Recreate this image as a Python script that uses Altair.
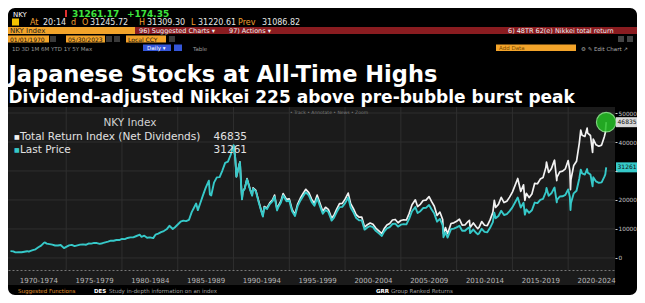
import altair as alt
import pandas as pd

# ---------------- data ----------------
price_dates = [
    1970.00, 1970.25, 1970.45, 1970.75, 1971.00, 1971.25, 1971.50, 1971.65, 1971.75,
    1972.00, 1972.25, 1972.50, 1972.75, 1973.00, 1973.10, 1973.25, 1973.50, 1973.75,
    1974.00, 1974.25, 1974.50, 1974.80, 1975.00, 1975.25, 1975.50, 1975.75,
    1976.00, 1976.25, 1976.50, 1976.75, 1977.00, 1977.25, 1977.50, 1977.75,
    1978.00, 1978.25, 1978.50, 1978.75, 1979.00, 1979.25, 1979.50, 1979.75,
    1980.00, 1980.25, 1980.50, 1980.75, 1981.00, 1981.25, 1981.60, 1981.75,
    1982.00, 1982.25, 1982.50, 1982.80, 1983.00, 1983.25, 1983.50, 1983.75,
    1984.00, 1984.25, 1984.55, 1984.75, 1985.00, 1985.25, 1985.50, 1985.75,
    1986.00, 1986.25, 1986.50, 1986.65, 1986.80, 1987.00, 1987.25, 1987.50, 1987.79, 1987.88,
    1988.00, 1988.25, 1988.50, 1988.75, 1989.00, 1989.25, 1989.50, 1989.75,
    1990.00, 1990.15, 1990.26, 1990.50, 1990.58, 1990.67, 1990.76, 1990.83,
    1991.00, 1991.21, 1991.50, 1991.67, 1991.75,
    1992.00, 1992.25, 1992.50, 1992.63, 1992.75,
    1993.00, 1993.25, 1993.50, 1993.68, 1993.90,
    1994.00, 1994.25, 1994.45, 1994.75,
    1995.00, 1995.25, 1995.51, 1995.75,
    1996.00, 1996.25, 1996.48, 1996.75,
    1997.00, 1997.25, 1997.50, 1997.75,
    1998.00, 1998.25, 1998.50, 1998.75, 1998.79,
    1999.00, 1999.25, 1999.50, 1999.75,
    2000.00, 2000.28, 2000.50, 2000.75,
    2001.00, 2001.25, 2001.50, 2001.75,
    2002.00, 2002.25, 2002.50, 2002.75,
    2003.00, 2003.30, 2003.50, 2003.75,
    2004.00, 2004.25, 2004.50, 2004.75,
    2005.00, 2005.25, 2005.50, 2005.75,
    2006.00, 2006.30, 2006.50, 2006.75,
    2007.00, 2007.25, 2007.53, 2007.75,
    2008.00, 2008.25, 2008.50, 2008.75, 2008.82,
    2009.00, 2009.19, 2009.50, 2009.75,
    2010.00, 2010.25, 2010.50, 2010.75,
    2011.00, 2011.15, 2011.21, 2011.50, 2011.75, 2011.90,
    2012.00, 2012.25, 2012.50, 2012.75,
    2013.00, 2013.25, 2013.38, 2013.50, 2013.75,
    2014.00, 2014.25, 2014.50, 2014.75,
    2015.00, 2015.25, 2015.48, 2015.75,
    2016.00, 2016.12, 2016.25, 2016.50, 2016.75,
    2017.00, 2017.25, 2017.50, 2017.75,
    2018.00, 2018.06, 2018.25, 2018.50, 2018.75, 2018.78, 2018.98,
    2019.00, 2019.25, 2019.50, 2019.75,
    2020.00, 2020.15, 2020.21, 2020.25, 2020.50, 2020.75,
    2021.00, 2021.13, 2021.25, 2021.50, 2021.70, 2021.75,
    2022.00, 2022.19, 2022.25, 2022.50, 2022.75,
    2023.00, 2023.25, 2023.33, 2023.41,
]
price_values = [
    2360, 2300, 1930, 2020, 1990, 2170, 2340, 2180, 2380,
    2710, 3000, 3700, 4250, 5210, 5360, 4950, 4800, 4600,
    4310, 4300, 4500, 3400, 3820, 4350, 4520, 4100,
    4360, 4600, 4700, 4550, 4990, 4950, 5200, 5150,
    4870, 5100, 5400, 5650, 6000, 5950, 6200, 6200,
    6570, 6500, 6900, 7100, 7120, 7500, 8020, 7300,
    7680, 7000, 7100, 6850, 8020, 8400, 8900, 9300,
    9890, 11100, 10000, 10600, 11540, 12500, 12900, 12700,
    13110, 15800, 17650, 18800, 16500, 18700, 21500, 24200, 26650, 21900,
    21560, 26000, 27800, 27900, 30160, 32800, 33200, 35600,
    38916, 34600, 28000, 31940, 33000, 25980, 20220, 22900,
    23850, 27150, 23290, 21500, 23900,
    22980, 19350, 15950, 14310, 17400,
    16920, 18590, 19590, 21150, 16400,
    17420, 19110, 21550, 19560,
    19720, 16140, 14490, 17910,
    19870, 21410, 22670, 21560,
    19360, 18000, 20600, 17890,
    15260, 16530, 15830, 13410, 12880,
    13840, 15840, 17530, 17610,
    18930, 20830, 17410, 15750,
    13790, 13000, 12970, 9780,
    10540, 11030, 10620, 9380,
    8580, 7610, 9080, 10220,
    10680, 11720, 11860, 10820,
    11490, 11670, 11580, 13570,
    16110, 17560, 15510, 16130,
    17230, 17290, 18260, 16790,
    15310, 12530, 13480, 11260, 7160,
    8860, 7050, 9960, 10130,
    10550, 11090, 9380, 9370,
    10230, 10620, 8610, 9820, 8700, 8160,
    8460, 10080, 9010, 8870,
    10400, 12400, 15630, 13680, 14460,
    16290, 14830, 15160, 16170,
    17450, 19210, 20870, 17390,
    19030, 14950, 16760, 15580, 16450,
    19110, 18910, 20030, 20360,
    22760, 24120, 21450, 22300, 24120, 24270, 19160,
    20010, 21210, 21280, 21760,
    23660, 21140, 16550, 18920, 22290, 23190,
    27440, 30470, 29180, 28790, 30670, 29450,
    28790, 24720, 27820, 26390, 25940,
    26090, 28040, 28860, 31261,
]
tr_dates = price_dates[price_dates.index(1990.00):]
tr_values = [
    38916, 34635, 28045, 32036, 33116, 26084, 20313, 23015,
    23993, 27354, 23511, 21730, 24170,
    23279, 19636, 16213, 14559, 17718,
    17258, 18995, 20050, 21675, 16831,
    17890, 19660, 22201, 20192,
    20390, 16718, 15035, 18614,
    20685, 22326, 23677, 22558,
    20289, 18900, 21671, 18856,
    16115, 17489, 16780, 14241, 13682,
    14726, 16885, 18722, 18843,
    20293, 22382, 18742, 16991,
    14907, 14086, 14085, 10646,
    11499, 12065, 11645, 10311,
    9455, 8414, 10061, 11354,
    11898, 13091, 13283, 12151,
    12938, 13175, 13109, 15402,
    18333, 20052, 17751, 18514,
    19832, 19966, 21163, 19515,
    17851, 14666, 15839, 13281, 8454,
    10490, 8371, 11882, 12131,
    12681, 13383, 11364, 11397,
    12491, 13001, 10551, 12093, 10760, 10118,
    10507, 12573, 11285, 11157,
    13135, 15723, 19860, 17415, 18480,
    20900, 19101, 19602, 20989,
    22737, 25136, 27415, 22946,
    25215, 19851, 22304, 20823, 22081,
    25760, 25595, 27221, 27781,
    31181, 33078, 29515, 30819, 33479, 33704, 26700,
    27894, 29705, 29941, 30758,
    33597, 30095, 23584, 26980, 31919, 33347,
    39623, 44090, 42305, 41904, 44781, 43035,
    42235, 36383, 40987, 39044, 38542,
    38926, 41934, 43192, 46835,
]

period_centers = [1972.5, 1977.5, 1982.5, 1987.5, 1992.5, 1997.5,
                  2002.5, 2007.5, 2012.5, 2017.5, 2022.5]
period_bounds = [1975, 1980, 1985, 1990, 1995, 2000, 2005, 2010, 2015, 2020]
value_ticks = [0, 10000, 20000, 30000, 40000, 50000]
series_names = ["Total Return Index (Net Dividends)", "Last Price"]
series_last = [46835, 31261]
series_colors = ["#f2f2f2", "#36c9c9"]
box_colors = ["#d8d8d8", "#36c9c9"]
last_date = 2023.41

title_text = "Japanese Stocks at All-Time Highs"
subtitle_text = "Dividend-adjusted Nikkei 225 above pre-bubble burst peak"

# ---------------- layout helpers ----------------
W, H = 607, 163
PAD = {"left": 0, "top": 99, "right": 22, "bottom": 25}
OX, OY = 8, 107  # page position of the plot origin


def px(x):
    return x - OX


def py(y):
    return y - OY


one = pd.DataFrame({"k": [0]})


def txt(x, y, s, size=9, color="#e6e6e6", weight="normal", align="left",
        font="DejaVu Sans"):
    return alt.Chart(one).mark_text(
        text=s, align=align, baseline="alphabetic", fontSize=size,
        color=color, fontWeight=weight, font=font
    ).encode(x=alt.value(px(x)), y=alt.value(py(y)))


def box(x1, y1, x2, y2, color, radius=0):
    return alt.Chart(one).mark_rect(color=color, cornerRadius=radius).encode(
        x=alt.value(px(x1)), x2=alt.value(px(x2)),
        y=alt.value(py(y1)), y2=alt.value(py(y2)))


# ---------------- scales / axes ----------------
xscale = alt.Scale(domain=[1969.78, 2024.2], nice=False, zero=False)
yscale = alt.Scale(domain=[-4140, 52070], nice=False, zero=False)

xaxis = alt.Axis(values=period_centers,
                 labelExpr="floor(datum.value) - 2 + '-' + (floor(datum.value) + 2)",
                 grid=False, ticks=False, domain=True, domainColor="#777777",
                 domainDash=[2, 2], domainWidth=1, labelColor="#b8b8b8",
                 labelFontSize=7, labelFont="DejaVu Sans", labelPadding=6,
                 title=None, labelFlush=False, labelOverlap=False, zindex=1)
yaxis = alt.Axis(orient="right", values=value_ticks, format="d",
                 labelExpr="datum.value == 30000 ? '' : datum.label",
                 grid=False, ticks=True, tickSize=2, tickColor="#d0d0d0",
                 domain=False, labelColor="#c8c8c8", labelFontSize=5.8,
                 labelFont="DejaVu Sans", labelPadding=1, title=None,
                 labelFlush=False, labelOverlap=False, zindex=1)

X = alt.X("date:Q", scale=xscale, axis=xaxis)
Y = alt.Y("value:Q", scale=yscale, axis=yaxis)

tr_df = pd.DataFrame({"date": tr_dates, "value": tr_values})
pr_df = pd.DataFrame({"date": price_dates, "value": price_values})
vgrid_df = pd.DataFrame({"date": period_bounds})
hgrid_df = pd.DataFrame({"value": value_ticks})
last_df = pd.DataFrame({"date": [last_date, last_date], "value": series_last,
                        "label": [str(v) for v in series_last],
                        "box": box_colors})

layers = []
# frame and panel
layers.append(box(8, 8, 637, 295, "#000000", 7))
layers.append(box(8, 107, 615, 285, "#1b1b1b"))

# grid
layers.append(alt.Chart(vgrid_df).mark_rule(color="#2f2f2f", strokeWidth=1).encode(
    x=X, y=alt.value(0), y2=alt.value(H)))
layers.append(alt.Chart(hgrid_df).mark_rule(color="#2f2f2f", strokeWidth=1).encode(
    y=Y, x=alt.value(0), x2=alt.value(W)))

# series
layers.append(alt.Chart(tr_df).mark_line(color=series_colors[0], strokeWidth=1.7,
                                         strokeJoin="round").encode(x=X, y=Y))
layers.append(alt.Chart(pr_df).mark_line(color=series_colors[1], strokeWidth=1.9,
                                         strokeJoin="round").encode(x=X, y=Y))

# highlight circle
layers.append(alt.Chart(last_df.iloc[[0]]).mark_circle(
    size=380, color="#24c024", opacity=0.85, stroke="#8ef08e", strokeWidth=1.2
).encode(x=X, y=Y))

# last-value boxes on the axis
layers.append(alt.Chart(last_df).mark_rect(yOffset=-5, y2Offset=5).encode(
    x=alt.value(W + 1), x2=alt.value(W + 30), y=Y, y2=alt.Y2("value:Q"),
    color=alt.Color("box:N", scale=None)))
layers.append(alt.Chart(last_df).mark_text(
    align="left", baseline="middle", fontSize=6, color="#101010",
    font="DejaVu Sans").encode(
    x=alt.value(W + 2.5), y=Y, text="label:N"))

# legend
layers.append(txt(130, 126, "NKY Index", 10.5, "#d2d2d2", align="center"))
for i, yy in enumerate([140, 153]):
    layers.append(txt(14, yy - 1, "■", 6, series_colors[i]))
    layers.append(txt(20, yy, series_names[i], 10.5, "#e2e2e2"))
    layers.append(txt(247, yy, str(series_last[i]), 10.5, "#e2e2e2", align="right"))

layers.append(txt(329, 114, "• Track   • Annotate   • News   • Zoom", 4.5,
                  "#7a7a7a", align="center"))

# header rows (Bloomberg terminal)
r1, r2 = 16.5, 25
layers.append(txt(13, r1, "NKY", 7, "#ffffff"))
layers.append(box(65, 10, 67, 17, "#e03030"))
layers.append(txt(72, r1, "31261.17", 9, "#3ee63e", "bold"))
layers.append(txt(127, r1, "+174.35", 9, "#3ee63e", "bold"))

layers.append(box(12, 18.5, 19, 25.5, "#f2c200"))
for x, s, c in [(30, "At", "#f0a030"), (43, "20:14", "#e6e6e6"), (71, "d", "#f0a030"),
                (82, "O", "#f0a030"), (90, "31245.72", "#e6e6e6"),
                (139, "H", "#f0a030"), (147, "31309.30", "#e6e6e6"),
                (191, "L", "#f0a030"), (198, "31220.61", "#e6e6e6"),
                (238, "Prev", "#f0a030"), (262, "31086.82", "#e6e6e6")]:
    layers.append(txt(x, r2, s, 8, c))

b3a, b3b = 27, 34
layers.append(box(8, b3a, 135, b3b, "#f3a42a"))
layers.append(box(135, b3a, 645, b3b, "#8a1c20"))
layers.append(txt(10, b3b - 1.5, "NKY Index", 7, "#1a1a1a"))
layers.append(txt(139, b3b - 1.5, "96) Suggested Charts ▾", 6.5, "#f0f0f0"))
layers.append(txt(229, b3b - 1.5, "97) Actions ▾", 6.5, "#f0f0f0"))
layers.append(txt(508, b3b - 1.5, "6) 48TR 62(e) Nikkei total return", 6.5, "#f0f0f0"))

b4a, b4b = 35.5, 42.5
layers.append(box(8, b4a, 49, b4b, "#f3a42a"))
layers.append(txt(10, b4b - 1, "01/01/1970", 6, "#111111"))
layers.append(box(50, b4a + 0.5, 56, b4b - 0.5, "#3a3a3a"))
layers.append(box(66, b4a, 105, b4b, "#f3a42a"))
layers.append(txt(68, b4b - 1, "05/30/2023", 6, "#111111"))
layers.append(box(106, b4a + 0.5, 112, b4b - 0.5, "#3a3a3a"))
layers.append(box(114, b4a + 0.5, 120, b4b - 0.5, "#3a3a3a"))
layers.append(box(126, b4a, 166, b4b, "#f3a42a"))
layers.append(txt(128, b4b - 1, "Local CCY", 6, "#111111"))
layers.append(box(169, b4a + 0.5, 175, b4b - 0.5, "#3a3a3a"))
layers.append(box(618, b4a + 0.5, 624, b4b - 0.5, "#444444"))
layers.append(box(627, b4a + 0.5, 633, b4b - 0.5, "#444444"))

b5a, b5b = 44.5, 51
layers.append(txt(12, b5b - 0.5, "1D   3D   1M   6M   YTD   1Y   5Y   Max", 5.5, "#9a9a9a"))
layers.append(box(143, b5a, 171, b5b, "#3556d8"))
layers.append(txt(147, b5b - 1, "Daily ▾", 5.5, "#ffffff"))
layers.append(box(174, b5a, 182, b5b, "#3556d8"))
layers.append(txt(193, b5b - 0.5, "Table", 5.5, "#9a9a9a"))
layers.append(box(496, b5a, 576, b5b, "#f3a42a"))
layers.append(txt(499, b5b - 1, "Add Data", 5.5, "#7a4a00"))
layers.append(txt(581, b5b - 0.5, "⚙  ✎ Edit Chart  ↗", 5.5, "#b0b0b0"))

# titles
layers.append(txt(8.5, 82, title_text, 22.5, "#ffffff", "bold"))
layers.append(txt(8.5, 103, subtitle_text, 17, "#ffffff", "bold"))

# bottom function bar
layers.append(txt(18, 293, "Suggested Functions", 5.5, "#e0952f"))
layers.append(txt(94, 293, "DES", 5.5, "#ffffff", "bold"))
layers.append(txt(109, 293, "Study in-depth information on an index", 5.5, "#a0a0a0"))
layers.append(txt(376, 293, "GRR", 5.5, "#ffffff", "bold"))
layers.append(txt(391, 293, "Group Ranked Returns", 5.5, "#a0a0a0"))

chart = alt.layer(*layers).properties(
    width=W, height=H, padding=PAD,
    autosize=alt.AutoSizeParams(type="none"),
).configure(background="#ffffff").configure_view(stroke=None)

chart.save("out.html", embed_options={"renderer": "svg", "actions": False})
